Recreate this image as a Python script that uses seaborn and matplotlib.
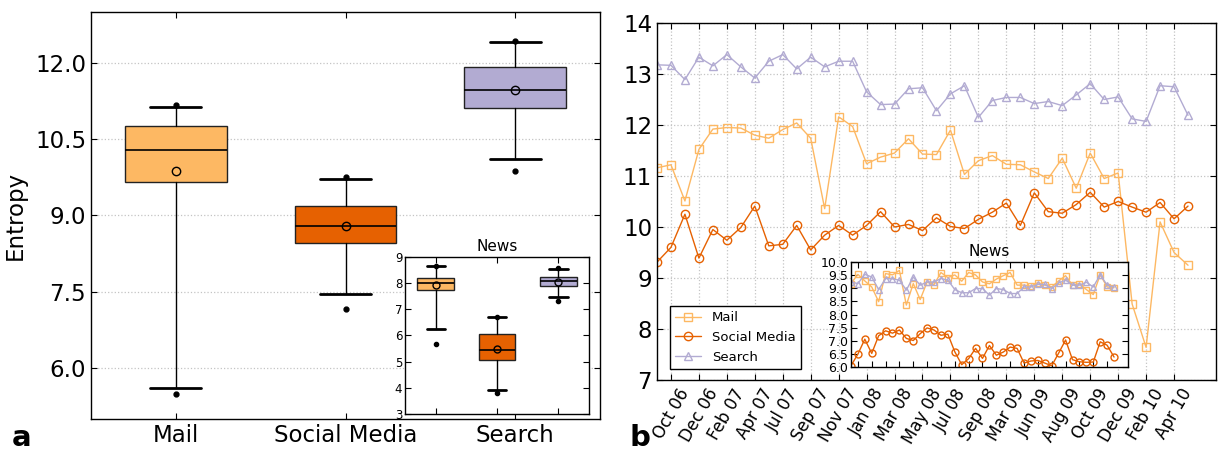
import numpy as np
import pandas as pd
import matplotlib
matplotlib.use('Agg')
import matplotlib.pyplot as plt
import seaborn as sns

# ---- panel a: box summaries (all browsing) ----
categories = ['Mail', 'Social Media', 'Search']
box_whislo = [5.61, 7.45, 10.11]
box_q1 = [9.66, 8.46, 11.12]
box_med = [10.28, 8.80, 11.47]
box_q3 = [10.76, 9.19, 11.91]
box_whishi = [11.13, 9.71, 12.41]
box_mean = [9.88, 8.80, 11.47]
box_min = [5.49, 7.17, 9.88]
box_max = [11.18, 9.75, 12.43]

# ---- panel a inset: News ----
news_whislo = [6.23, 3.91, 7.46]
news_q1 = [7.75, 5.07, 7.89]
news_med = [8.00, 5.43, 8.10]
news_q3 = [8.19, 6.04, 8.24]
news_whishi = [8.64, 6.69, 8.54]
news_mean = [7.92, 5.49, 8.06]
news_min = [5.67, 3.82, 7.31]
news_max = [8.66, 6.70, 8.57]

# ---- panel b: monthly entropy ----
months = ['Oct 06', 'Dec 06', 'Feb 07', 'Apr 07', 'Jul 07', 'Sep 07', 'Nov 07',
          'Jan 08', 'Mar 08', 'May 08', 'Jul 08', 'Sep 08', 'Mar 09', 'Jun 09',
          'Aug 09', 'Oct 09', 'Dec 09', 'Feb 10', 'Apr 10']
mail = [11.16, 11.22, 10.51, 11.52, 11.92, 11.95, 11.94, 11.80, 11.74, 11.91,
        12.04, 11.74, 10.36, 12.16, 11.97, 11.24, 11.37, 11.45, 11.73, 11.43,
        11.42, 11.90, 11.03, 11.30, 11.40, 11.23, 11.22, 11.08, 10.95, 11.35,
        10.76, 11.45, 10.95, 11.06, 8.49, 7.64, 10.10, 9.50, 9.25]
social = [9.31, 9.60, 10.25, 9.39, 9.95, 9.74, 9.99, 10.41, 9.63, 9.66,
          10.03, 9.55, 9.84, 10.03, 9.84, 10.03, 10.30, 10.00, 10.05, 9.93,
          10.18, 10.01, 9.97, 10.15, 10.29, 10.47, 10.03, 10.67, 10.30, 10.27,
          10.44, 10.68, 10.39, 10.50, 10.39, 10.29, 10.48, 10.16, 10.41]
search = [13.18, 13.17, 12.89, 13.33, 13.16, 13.38, 13.14, 12.92, 13.25, 13.38,
          13.10, 13.33, 13.14, 13.25, 13.25, 12.65, 12.40, 12.41, 12.71, 12.73,
          12.28, 12.61, 12.77, 12.15, 12.48, 12.54, 12.54, 12.42, 12.46, 12.38,
          12.59, 12.81, 12.50, 12.55, 12.12, 12.07, 12.77, 12.75, 12.19]

# ---- panel b inset: News ----
news_mail = [9.18, 9.53, 9.28, 9.05, 8.49, 9.56, 9.51, 9.68, 8.36, 9.18,
             8.57, 9.24, 9.14, 9.60, 9.41, 9.51, 9.27, 9.60, 9.51, 9.24,
             9.17, 9.35, 9.48, 9.60, 9.12, 9.12, 9.08, 9.22, 9.12, 9.05,
             9.28, 9.48, 9.12, 9.18, 8.95, 8.76, 9.52, 9.05, 9.02]
news_social = [6.05, 6.49, 7.06, 6.52, 7.19, 7.38, 7.29, 7.41, 7.09, 7.01,
               7.27, 7.49, 7.41, 7.21, 7.25, 6.58, 6.09, 6.32, 6.71, 6.33,
               6.82, 6.45, 6.57, 6.76, 6.71, 6.15, 6.23, 6.25, 6.15, 6.05,
               6.53, 7.03, 6.28, 6.20, 6.18, 6.19, 6.96, 6.83, 6.38]
news_search = [9.24, 9.18, 9.53, 9.43, 8.95, 9.37, 9.36, 9.31, 8.93, 9.43,
               9.12, 9.24, 9.24, 9.37, 9.31, 8.95, 8.83, 8.83, 8.99, 8.99,
               8.74, 8.99, 8.95, 8.80, 8.80, 9.05, 9.05, 9.15, 9.15, 8.99,
               9.20, 9.31, 9.12, 9.12, 9.23, 9.05, 9.52, 9.12, 9.05]

colors = sns.color_palette(['#fdb863', '#e66101', '#b2abd2'])

sns.set_style('ticks', {'xtick.direction': 'in', 'ytick.direction': 'in',
                        'xtick.top': True, 'ytick.right': True,
                        'axes.edgecolor': 'black', 'text.color': 'black',
                        'axes.labelcolor': 'black', 'xtick.color': 'black',
                        'ytick.color': 'black'})
plt.rcParams['font.family'] = ['DejaVu Sans']
plt.rcParams['axes.linewidth'] = 1.0
plt.rcParams['xtick.major.size'] = 4
plt.rcParams['ytick.major.size'] = 4

fig = plt.figure(figsize=(12.2, 4.5), dpi=100)

grid_kw = dict(linestyle=':', color='#c4c4c4', linewidth=0.9)


def make_stats(lo, q1, med, q3, hi, mean, mn, mx, labels):
    return [dict(label=l, whislo=a, q1=b, med=c, q3=d, whishi=e, mean=f, fliers=[g, h])
            for l, a, b, c, d, e, f, g, h in zip(labels, lo, q1, med, q3, hi, mean, mn, mx)]


def draw_boxes(ax, stats, ms_mean, ms_dot):
    bp = ax.bxp(stats, positions=[0, 1, 2], widths=0.6, patch_artist=True, showmeans=True,
                boxprops=dict(edgecolor='#222222', linewidth=1),
                medianprops=dict(color='black', linewidth=1.2),
                whiskerprops=dict(color='black', linewidth=1),
                capprops=dict(color='black', linewidth=2),
                meanprops=dict(marker='o', markerfacecolor='none', markeredgecolor='black',
                               markersize=ms_mean, markeredgewidth=1),
                flierprops=dict(marker='o', markerfacecolor='black', markeredgecolor='black',
                                markersize=ms_dot))
    for patch, c in zip(bp['boxes'], colors):
        patch.set_facecolor(c)
    ax.set_xlim(-0.5, 2.5)


# panel a
axa = fig.add_axes([0.0746, 0.0689, 0.4172, 0.9045])
draw_boxes(axa, make_stats(box_whislo, box_q1, box_med, box_q3, box_whishi,
                           box_mean, box_min, box_max, categories), 6, 3.5)
axa.set_ylim(5, 13)
axa.set_yticks([6.0, 7.5, 9.0, 10.5, 12.0])
axa.set_yticklabels(['6.0', '7.5', '9.0', '10.5', '12.0'])
axa.yaxis.grid(True, **grid_kw)
axa.set_axisbelow(True)
axa.tick_params(axis='both', labelsize=16.5)
axa.set_ylabel('Entropy', fontsize=16.5, labelpad=6)

# panel a inset
axai = fig.add_axes([0.332, 0.08, 0.1508, 0.349])
draw_boxes(axai, make_stats(news_whislo, news_q1, news_med, news_q3, news_whishi,
                            news_mean, news_min, news_max, categories), 5, 3)
axai.set_ylim(3, 9)
axai.set_yticks(range(3, 10))
axai.set_xticklabels([])
axai.tick_params(axis='y', labelsize=8.5, pad=2)
axai.set_title('News', fontsize=11, pad=4)

# panel b
idx = np.arange(len(mail))
axb = fig.add_axes([0.5385, 0.1556, 0.4582, 0.7933])
markers = ['s', 'o', '^']
for vals, lab, c, m in zip([mail, social, search], categories, colors, markers):
    sns.lineplot(x=idx, y=vals, ax=axb, color=c, marker=m, markersize=6,
                 markerfacecolor='none', markeredgecolor=c, markeredgewidth=1,
                 linewidth=1, label=lab)
axb.set_xlim(0, 40)
axb.set_ylim(7, 14)
axb.set_xticks(idx[1::2])
axb.set_xticklabels(months, rotation=60, fontsize=12)
axb.tick_params(axis='y', labelsize=16.5)
axb.tick_params(axis='x', pad=4)
axb.grid(True, **grid_kw)
axb.set_axisbelow(True)
leg = axb.legend(loc='lower left', bbox_to_anchor=(0.023, 0.031), borderaxespad=0,
                 fontsize=9.5, fancybox=False, framealpha=1, edgecolor='black')
leg.get_frame().set_linewidth(1)

# panel b inset
axbi = fig.add_axes([0.6975, 0.1844, 0.2270, 0.2333])
for vals, c, m in zip([news_mail, news_social, news_search], colors, markers):
    sns.lineplot(x=idx, y=vals, ax=axbi, color=c, marker=m, markersize=5,
                 markerfacecolor='none', markeredgecolor=c, markeredgewidth=1,
                 linewidth=1, legend=False)
axbi.set_xlim(0, 40)
axbi.set_ylim(6, 10)
axbi.set_yticks(np.arange(6, 10.01, 0.5))
axbi.set_xticks(idx[1::2])
axbi.set_xticklabels([])
axbi.set_xlabel('')
axbi.tick_params(axis='y', labelsize=9, pad=2)
axbi.set_title('News', fontsize=11, pad=4)

fig.text(0.010, 0.008, 'a', fontsize=21, fontweight='bold')
fig.text(0.516, 0.008, 'b', fontsize=21, fontweight='bold')

fig.savefig('out.png', dpi=100)
